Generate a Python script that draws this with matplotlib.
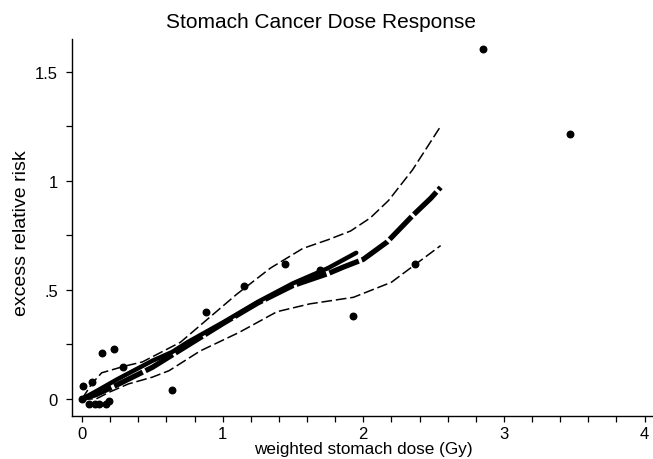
import matplotlib
matplotlib.use("Agg")
import matplotlib.pyplot as plt
from matplotlib.ticker import MultipleLocator, FixedLocator

plt.rcParams['font.family'] = ['Liberation Sans', 'DejaVu Sans']

# observed points (dose, excess relative risk)
dose_pts = [0.0, 0.01, 0.07, 0.05, 0.09, 0.12, 0.17, 0.19, 0.14, 0.23, 0.29,
            0.64, 0.88, 1.15, 1.44, 1.69, 1.93, 2.37, 2.85, 3.47]
err_pts = [0.0, 0.06, 0.08, -0.025, -0.025, -0.025, -0.025, -0.01, 0.21, 0.23, 0.145,
           0.04, 0.40, 0.52, 0.62, 0.59, 0.38, 0.62, 1.605, 1.215]

# fitted curve (long, thick dashed)
fit_x = [0, 0.1, 0.25, 0.5, 0.75, 1.0, 1.25, 1.5, 1.75, 1.86, 2.0, 2.17, 2.35, 2.48, 2.55]
fit_y = [0, 0.02, 0.065, 0.145, 0.245, 0.345, 0.44, 0.52, 0.575, 0.605, 0.64, 0.72, 0.84, 0.92, 0.97]

# smooth curve (shorter, thick solid)
smooth_x = [0, 0.1, 0.25, 0.5, 0.64, 0.75, 1.0, 1.25, 1.5, 1.75, 1.95]
smooth_y = [0, 0.035, 0.09, 0.175, 0.215, 0.26, 0.35, 0.445, 0.53, 0.60, 0.67]

# confidence bounds
upper_x = [0, 0.07, 0.14, 0.3, 0.43, 0.55, 0.7, 0.9, 1.1, 1.24, 1.34, 1.57, 1.75, 1.91, 2.05, 2.18, 2.35, 2.55]
upper_y = [0, 0.07, 0.12, 0.15, 0.17, 0.21, 0.26, 0.37, 0.48, 0.55, 0.60, 0.69, 0.73, 0.77, 0.83, 0.91, 1.05, 1.25]
lower_x = [0, 0.1, 0.19, 0.33, 0.5, 0.62, 0.84, 1.12, 1.386, 1.62, 1.93, 2.2, 2.55]
lower_y = [0, 0.0, 0.03, 0.069, 0.1, 0.13, 0.22, 0.306, 0.40, 0.436, 0.466, 0.535, 0.703]

xticks = [0, 1, 2, 3, 4]
xticklabels = ["0", "1", "2", "3", "4"]
yticks = [0, 0.5, 1, 1.5]
yticklabels = ["0", ".5", "1", "1.5"]

fig = plt.figure(figsize=(6.53, 4.60), dpi=100)
ax = fig.add_axes([72 / 653, 43 / 460, 581 / 653, 377 / 460])

ax.plot(upper_x, upper_y, color="black", lw=1.1, dashes=(7, 2.5))
ax.plot(lower_x, lower_y, color="black", lw=1.1, dashes=(7, 2.5))
ax.plot(smooth_x, smooth_y, color="black", lw=3.2, solid_capstyle="round")
ax.plot(fit_x, fit_y, color="black", lw=3.8, dashes=(6, 0.6))
ax.scatter(dose_pts, err_pts, s=22, color="black", zorder=5)

ax.set_xlim(-0.071, 4.06)
ax.set_ylim(-0.078, 1.65)

ax.spines["top"].set_visible(False)
ax.spines["right"].set_visible(False)
ax.spines["left"].set_linewidth(1.0)
ax.spines["bottom"].set_linewidth(1.0)

ax.xaxis.set_major_locator(FixedLocator(xticks))
ax.set_xticklabels(xticklabels)
ax.xaxis.set_minor_locator(MultipleLocator(0.2))
ax.yaxis.set_major_locator(FixedLocator(yticks))
ax.set_yticklabels(yticklabels)
ax.yaxis.set_minor_locator(MultipleLocator(0.25))

ax.tick_params(which="both", direction="out", length=4, width=0.9, labelsize=12)
ax.tick_params(axis="x", pad=3.5)
ax.tick_params(axis="y", pad=6)

fig.text(321 / 653, 1 - 22 / 460, "Stomach Cancer Dose Response", ha="center", va="center", fontsize=15)
fig.text(363 / 653, 1 - 450 / 460, "weighted stomach dose (Gy)", ha="center", va="center", fontsize=12.3)
fig.text(22 / 653, 1 - 233 / 460, "excess relative risk", ha="center", va="center",
         rotation=90, fontsize=14)

fig.savefig("out.png", dpi=100)
